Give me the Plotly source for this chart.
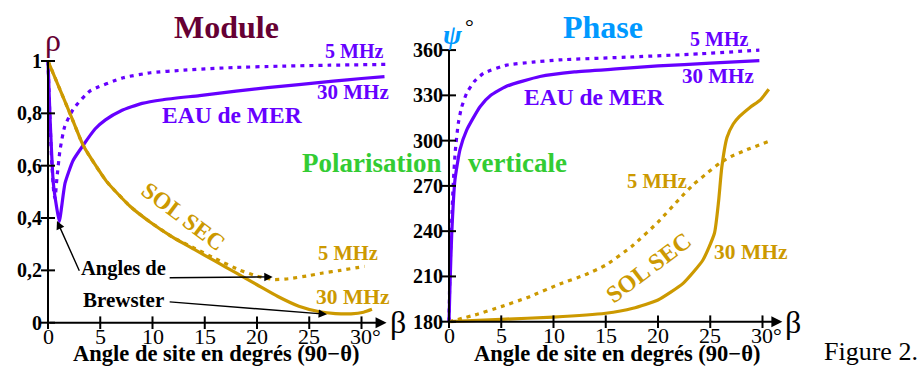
import plotly.graph_objects as go

# ---------------- DATA ----------------
# Module (rho) vs angle de site beta (deg)
eau30_mod_x = [0, 0.19, 0.51, 0.83, 1.08, 1.63, 2.4, 3.4, 4.5, 5.5, 7, 9, 11, 14.5, 18, 21, 24, 27.3, 30, 32.2]
eau30_mod_y = [1, 0.787, 0.533, 0.44, 0.387, 0.533, 0.62, 0.68, 0.74, 0.775, 0.81, 0.838, 0.852, 0.868, 0.885, 0.898, 0.91, 0.923, 0.933, 0.94]

eau5_mod_x = [0, 0.15, 0.35, 0.55, 0.67, 0.85, 1.15, 1.6, 2.4, 4, 7.2, 9.8, 13, 17.7, 22, 27, 32.4]
eau5_mod_y = [1, 0.82, 0.62, 0.5, 0.475, 0.55, 0.66, 0.75, 0.815, 0.885, 0.936, 0.955, 0.965, 0.975, 0.98, 0.984, 0.987]

sol30_mod_x = [0, 2.1, 3.4, 5.6, 7.85, 9.76, 12, 14, 16, 18, 20, 22, 24, 26, 27.5, 29, 30.2, 31]
sol30_mod_y = [1, 0.80, 0.675, 0.54, 0.445, 0.385, 0.325, 0.28, 0.235, 0.19, 0.145, 0.1, 0.063, 0.042, 0.035, 0.034, 0.04, 0.051]

sol5_mod_x = [0, 2.1, 3.4, 5.6, 7.85, 9.76, 12, 14, 16, 18.4, 20, 21.6, 23, 25, 26.3, 28, 30.3]
sol5_mod_y = [1, 0.80, 0.675, 0.54, 0.445, 0.385, 0.325, 0.285, 0.245, 0.2, 0.178, 0.165, 0.168, 0.18, 0.19, 0.2, 0.215]

# Phase (psi, degrees)
eau30_ph_x = [0, 0.1, 0.26, 0.57, 1.05, 1.69, 2.97, 4, 5.5, 8.7, 12, 16, 20, 25, 29.7]
eau30_ph_y = [180, 205, 238, 274, 294, 307, 322.5, 330, 336, 342.5, 345.5, 347.5, 349.5, 351.3, 353]

eau5_ph_x = [0, 0.05, 0.1, 0.25, 0.41, 0.6, 0.89, 1.2, 1.69, 2.4, 3.3, 5.5, 8, 10.6, 17.6, 24, 29.7]
eau5_ph_y = [180, 200, 215, 245, 272, 293, 311.5, 322, 331.4, 339, 344.6, 350, 352, 353.5, 355.5, 357.5, 360]

sol30_ph_x = [0, 5, 10, 15, 17.6, 20, 22.4, 24.3, 25.4, 25.8, 26.1, 26.6, 27.2, 27.8, 28.8, 29.8, 30.6]
sol30_ph_y = [180, 181.6, 183, 185.6, 188.9, 194.4, 205.4, 220.9, 238.6, 260, 282, 302, 311, 316, 322, 327, 334]

sol5_ph_x = [0, 2.5, 5, 7.5, 10.6, 13, 15, 17.5, 20, 22, 23.4, 24.8, 25.9, 27, 28.5, 30.6]
sol5_ph_y = [180, 184.5, 190, 196, 205, 211, 217.5, 230, 246, 261, 271, 279, 285, 289.5, 294, 299.5]

# Ticks
x_ticks = [0, 5, 10, 15, 20, 25, 30]
x_ticktext = ["0", "5", "10", "15", "20", "25", "30°"]
mod_ticks = [0, 0.2, 0.4, 0.6, 0.8, 1]
mod_ticktext = ["0", "0,2", "0,4", "0,6", "0,8", "1"]
ph_ticks = [180, 210, 240, 270, 300, 330, 360]
ph_ticktext = ["180", "210", "240", "270", "300", "330", "360"]

# ---------------- STYLE / LAYOUT ----------------
W, H = 920, 374
FONT = "Liberation Serif, Tinos, Times New Roman, DejaVu Serif, serif"
PURPLE = "#6600FF"
GOLD = "#CC9900"
MAROON = "#660033"
BLUE = "#0099FF"
GREEN = "#33CC33"
DOT = "4px,5px"

# pixel mapping
SX = 10.45               # px per degree on both x axes
XL0, XR0 = 48, 449       # px of beta = 0
YL0, SYL = 322.7, 261.7  # left: px of rho=0, px per unit
YR0, SYR = 321.7, 1.509  # right: px of psi=180, px per degree
DOM_TOP, DOM_BOT = 40, 340
DL = (40, 400)
DR = (440, 800)


def px(x):
    return x / W


def py(y):
    return 1 - y / H


xl_range = [(DL[0] - XL0) / SX, (DL[1] - XL0) / SX]
xr_range = [(DR[0] - XR0) / SX, (DR[1] - XR0) / SX]
yl_range = [(YL0 - DOM_BOT) / SYL, (YL0 - DOM_TOP) / SYL]
yr_range = [180 + (YR0 - DOM_BOT) / SYR, 180 + (YR0 - DOM_TOP) / SYR]

fig = go.Figure()


def line(x, y, color, dotted, xa, ya, width=3.2):
    fig.add_trace(go.Scatter(
        x=x, y=y, mode="lines", xaxis=xa, yaxis=ya, showlegend=False,
        hoverinfo="skip",
        line=dict(color=color, width=width, shape="spline", smoothing=0.5,
                  dash=DOT if dotted else "solid")))


# left panel curves
line(sol5_mod_x, sol5_mod_y, GOLD, True, "x", "y")
line(eau5_mod_x, eau5_mod_y, PURPLE, True, "x", "y")
line(eau30_mod_x, eau30_mod_y, PURPLE, False, "x", "y")
line(sol30_mod_x, sol30_mod_y, GOLD, False, "x", "y")
# right panel curves
line(sol5_ph_x, sol5_ph_y, GOLD, True, "x2", "y2")
line(eau5_ph_x, eau5_ph_y, PURPLE, True, "x2", "y2")
line(eau30_ph_x, eau30_ph_y, PURPLE, False, "x2", "y2")
line(sol30_ph_x, sol30_ph_y, GOLD, False, "x2", "y2")

# tick marks (crossing the axes)
for xa, ya, yt, y0 in (("x", "y", mod_ticks, 0), ("x2", "y2", ph_ticks, 180)):
    fig.add_trace(go.Scatter(x=[0] * len(yt), y=yt, mode="markers", xaxis=xa, yaxis=ya,
                             showlegend=False, hoverinfo="skip",
                             marker=dict(symbol="line-ew", size=10,
                                         line=dict(color="black", width=2))))
    fig.add_trace(go.Scatter(x=x_ticks, y=[y0] * len(x_ticks), mode="markers", xaxis=xa, yaxis=ya,
                             showlegend=False, hoverinfo="skip",
                             marker=dict(symbol="line-ns", size=9,
                                         line=dict(color="black", width=2))))

shapes = [
    dict(type="line", xref="x", yref="y", x0=0, x1=0, y0=0, y1=1,
         line=dict(color="black", width=2)),
    dict(type="line", xref="x2", yref="y2", x0=0, x1=0, y0=180, y1=360,
         line=dict(color="black", width=2)),
]

ann = []
# x-axis arrows
ann.append(dict(x=32.4, y=0, ax=0, ay=0, xref="x", yref="y", axref="x", ayref="y",
                showarrow=True, arrowhead=2, arrowsize=1.1, arrowwidth=2,
                arrowcolor="black", text="", standoff=0, startstandoff=0))
ann.append(dict(x=31.9, y=180, ax=0, ay=180, xref="x2", yref="y2", axref="x2", ayref="y2",
                showarrow=True, arrowhead=2, arrowsize=1.1, arrowwidth=2,
                arrowcolor="black", text="", standoff=0, startstandoff=0))
# Brewster arrows
for (tx, ty, hx, hy) in ((3.06, 0.193, 0.86, 0.389), (11.5, 0.172, 21.5, 0.175),
                         (11.5, 0.08, 26.7, 0.032)):
    ann.append(dict(x=hx, y=hy, ax=tx, ay=ty, xref="x", yref="y", axref="x", ayref="y",
                    showarrow=True, arrowhead=2, arrowsize=1.2, arrowwidth=1.4,
                    arrowcolor="black", text="", standoff=0, startstandoff=0))

# x tick labels (placed on the x axes' scale)
for xa, ya, y0 in (("x", "y", 0), ("x2", "y2", 180)):
    for v, t in zip(x_ticks, x_ticktext):
        ann.append(dict(x=v, y=y0, xref=xa, yref=ya, text=t, showarrow=False,
                        xanchor="center", yanchor="middle", yshift=-14,
                        xshift=4 if t.endswith("°") else 0,
                        font=dict(family=FONT, size=22, color="black")))


def txt(x, y, s, size, color="black", bold=True, angle=0, xanchor="center"):
    ann.append(dict(x=px(x), y=py(y), xref="paper", yref="paper", text=s,
                    showarrow=False, xanchor=xanchor, yanchor="middle",
                    textangle=angle,
                    font=dict(family=FONT, size=size, color=color,
                              weight="bold" if bold else "normal")))


# left panel texts
txt(226, 27, "Module", 32, MAROON)
txt(53, 40, "ρ", 32, MAROON, bold=False)
txt(398, 322, "β", 32, bold=False)
txt(216, 353, "Angle de site en degrés (90−θ)", 22.5)
txt(354, 51, "5 MHz", 20, PURPLE)
txt(353, 92, "30 MHz", 21, PURPLE)
txt(232, 115, "EAU de MER", 23.5, PURPLE)
txt(183, 216, "SOL SEC", 23.5, GOLD, angle=37)
txt(348, 253, "5 MHz", 20.5, GOLD)
txt(353, 297, "30 MHz", 21.5, GOLD)
txt(123, 268, "Angles de", 20.5)
txt(123, 300, "Brewster", 21)
# right panel texts
txt(603, 27, "Phase", 32, BLUE)
txt(452, 34, "<i>ψ</i>", 28, BLUE)
txt(469, 27, "°", 22, bold=False)
txt(793, 322, "β", 32, bold=False)
txt(617, 353, "Angle de site en degrés (90−θ)", 22.5)
txt(719, 39, "5 MHz", 20, PURPLE)
txt(718, 76, "30 MHz", 21, PURPLE)
txt(594, 97, "EAU de MER", 23.5, PURPLE)
txt(657, 181, "5 MHz", 20.5, GOLD)
txt(751, 252, "30 MHz", 21.5, GOLD)
txt(648, 268, "SOL SEC", 24, GOLD, angle=-37)
txt(372, 163, "Polarisation", 27, GREEN)
txt(517, 163, "verticale", 27, GREEN)
txt(822, 351, "Figure 2.", 26, bold=False, xanchor="left")

common_x = dict(showgrid=False, zeroline=False, showline=False, ticks="",
                showticklabels=False, anchor="free")
common_y = dict(showgrid=False, zeroline=False, showline=False, ticks="", ticklen=0,
                anchor="free",
                tickfont=dict(family=FONT, size=20, color="black", weight="bold"),
                ticklabelstandoff=6)

fig.update_layout(
    width=W, height=H, margin=dict(l=0, r=0, t=0, b=0),
    paper_bgcolor="white", plot_bgcolor="rgba(0,0,0,0)",
    font=dict(family=FONT),
    showlegend=False, shapes=shapes, annotations=ann,
    xaxis=dict(domain=[px(DL[0]), px(DL[1])], range=xl_range, position=py(YL0), **common_x),
    yaxis=dict(domain=[py(DOM_BOT), py(DOM_TOP)], range=yl_range, position=px(XL0),
               tickvals=mod_ticks, ticktext=mod_ticktext, **common_y),
    xaxis2=dict(domain=[px(DR[0]), px(DR[1])], range=xr_range, position=py(YR0), **common_x),
    yaxis2=dict(domain=[py(DOM_BOT), py(DOM_TOP)], range=yr_range, position=px(XR0),
                tickvals=ph_ticks, ticktext=ph_ticktext, **common_y),
)

fig.write_html("out.html", config={"displayModeBar": False},
               post_script="document.body.style.margin='0';")
